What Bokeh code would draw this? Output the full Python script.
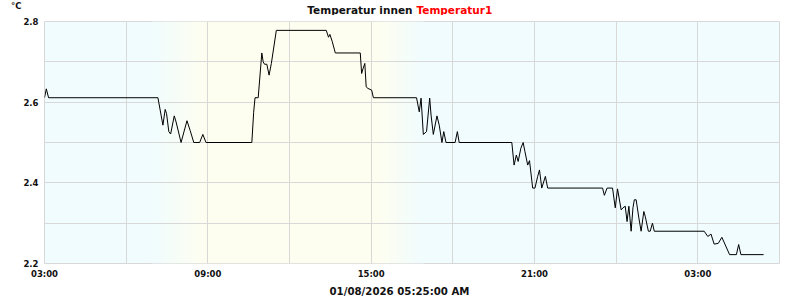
from bokeh.plotting import figure
from bokeh.models import FixedTicker, DatetimeTickFormatter, Range1d, LinearAxis
from bokeh.layouts import column
from bokeh.core.properties import value
from bokeh.embed import file_html
from bokeh.resources import INLINE
import pandas as pd

# ---- data ----
times = [
    "2026-01-07 03:00", "2026-01-07 03:04", "2026-01-07 03:09", "2026-01-07 07:10",
    "2026-01-07 07:21", "2026-01-07 07:26", "2026-01-07 07:29", "2026-01-07 07:34",
    "2026-01-07 07:38", "2026-01-07 07:46", "2026-01-07 07:50", "2026-01-07 08:01",
    "2026-01-07 08:14", "2026-01-07 08:21", "2026-01-07 08:29", "2026-01-07 08:42",
    "2026-01-07 08:49", "2026-01-07 08:56", "2026-01-07 10:37", "2026-01-07 10:41",
    "2026-01-07 10:44", "2026-01-07 10:51", "2026-01-07 10:59", "2026-01-07 11:02",
    "2026-01-07 11:05", "2026-01-07 11:10", "2026-01-07 11:15", "2026-01-07 11:20",
    "2026-01-07 11:31", "2026-01-07 13:21", "2026-01-07 13:26", "2026-01-07 13:29",
    "2026-01-07 13:34", "2026-01-07 13:41", "2026-01-07 14:36", "2026-01-07 14:39",
    "2026-01-07 14:42", "2026-01-07 14:46", "2026-01-07 14:49", "2026-01-07 14:53",
    "2026-01-07 15:01", "2026-01-07 15:05", "2026-01-07 16:40", "2026-01-07 16:46",
    "2026-01-07 16:50", "2026-01-07 16:55", "2026-01-07 17:02", "2026-01-07 17:09",
    "2026-01-07 17:12", "2026-01-07 17:17", "2026-01-07 17:25", "2026-01-07 17:30",
    "2026-01-07 17:36", "2026-01-07 17:40", "2026-01-07 17:45", "2026-01-07 18:05",
    "2026-01-07 18:10", "2026-01-07 18:14", "2026-01-07 20:10", "2026-01-07 20:15",
    "2026-01-07 20:20", "2026-01-07 20:24", "2026-01-07 20:30", "2026-01-07 20:35",
    "2026-01-07 20:39", "2026-01-07 20:45", "2026-01-07 20:49", "2026-01-07 20:56",
    "2026-01-07 21:01", "2026-01-07 21:07", "2026-01-07 21:11", "2026-01-07 21:16",
    "2026-01-07 21:24", "2026-01-07 21:29", "2026-01-07 23:30", "2026-01-07 23:34",
    "2026-01-07 23:40", "2026-01-07 23:52", "2026-01-07 23:58", "2026-01-08 00:03",
    "2026-01-08 00:11", "2026-01-08 00:15", "2026-01-08 00:20", "2026-01-08 00:24",
    "2026-01-08 00:28", "2026-01-08 00:33", "2026-01-08 00:37", "2026-01-08 00:40",
    "2026-01-08 00:44", "2026-01-08 00:50", "2026-01-08 00:55", "2026-01-08 01:01",
    "2026-01-08 01:04", "2026-01-08 01:11", "2026-01-08 01:15", "2026-01-08 01:20",
    "2026-01-08 01:24", "2026-01-08 03:14", "2026-01-08 03:22", "2026-01-08 03:29",
    "2026-01-08 03:36", "2026-01-08 03:45", "2026-01-08 03:53", "2026-01-08 04:10",
    "2026-01-08 04:25", "2026-01-08 04:30", "2026-01-08 04:35", "2026-01-08 05:25",
]
temperatur1 = [
    2.611, 2.633, 2.611, 2.611,
    2.543, 2.582, 2.572, 2.527,
    2.521, 2.566, 2.551, 2.500,
    2.554, 2.530, 2.500, 2.500,
    2.520, 2.500, 2.500, 2.575,
    2.611, 2.611, 2.722, 2.700,
    2.694, 2.694, 2.667, 2.696,
    2.778, 2.778, 2.761, 2.768,
    2.751, 2.722, 2.722, 2.671,
    2.683, 2.696, 2.638, 2.634,
    2.630, 2.611, 2.611, 2.576,
    2.610, 2.520, 2.527, 2.610,
    2.568, 2.520, 2.566, 2.543,
    2.500, 2.527, 2.500, 2.500,
    2.527, 2.500, 2.500, 2.444,
    2.469, 2.453, 2.486, 2.500,
    2.477, 2.444, 2.455, 2.387,
    2.387, 2.416, 2.432, 2.387,
    2.416, 2.387, 2.387, 2.369,
    2.387, 2.387, 2.338, 2.385,
    2.333, 2.338, 2.342, 2.304,
    2.342, 2.280, 2.338, 2.358,
    2.358, 2.313, 2.280, 2.329,
    2.317, 2.280, 2.280, 2.300,
    2.280, 2.280, 2.267, 2.273,
    2.248, 2.250, 2.265, 2.222,
    2.222, 2.247, 2.222, 2.222,
]
x_start = "2026-01-07 03:00"
x_end = "2026-01-08 06:00"
y_ticks = [2.2, 2.4, 2.6, 2.8]
y_minor = [2.3, 2.5, 2.7]
x_ticks = ["2026-01-07 03:00", "2026-01-07 09:00", "2026-01-07 15:00",
           "2026-01-07 21:00", "2026-01-08 03:00"]
x_minor = ["2026-01-07 06:00", "2026-01-07 12:00", "2026-01-07 18:00",
           "2026-01-08 00:00"]
dawn = ("2026-01-07 06:55", "2026-01-07 08:55")
dusk = ("2026-01-07 15:15", "2026-01-07 16:55")
title_black = "Temperatur innen"
title_red = "Temperatur1"
unit_label = "°C"
time_label = "01/08/2026 05:25:00 AM"

NIGHT = (240, 252, 254)
DAY = (254, 254, 240)
GRID = "#d8d8d8"
FONT = "DejaVu Sans"
INK = "#111111"
LEFT, RIGHT = 44, 21          # frame borders shared by every row of the column


def ms(s):
    return pd.Timestamp(s).value / 1e6


def strip_figure(h):
    # frames of a column are aligned, so map the frame to canvas pixels
    f = figure(width=800, height=h, output_backend="svg", toolbar_location=None,
               title=None,
               x_range=Range1d(LEFT, 800 - RIGHT), y_range=Range1d(0, h),
               x_axis_location=None, y_axis_location=None,
               min_border_left=LEFT, min_border_right=RIGHT,
               min_border_top=0, min_border_bottom=0)
    f.grid.visible = False
    f.outline_line_color = None
    f.background_fill_color = "white"
    f.border_fill_color = "white"
    return f


# ---- header ----
HEAD_H = 15
head = strip_figure(HEAD_H)
head.text(x=[412], y=[HEAD_H - 9], text=[title_black], text_align="right",
          text_baseline="alphabetic", text_font=value(FONT),
          text_font_style="bold", text_font_size="10.5px", text_color=INK)
head.text(x=[416], y=[HEAD_H - 9], text=[title_red], text_align="left",
          text_baseline="alphabetic", text_font=value(FONT),
          text_font_style="bold", text_font_size="10.5px", text_color="#ff0000")
# unit shown as the single tick label of an invisible left axis of the header
unit_axis = LinearAxis(ticker=FixedTicker(ticks=[HEAD_H - 5]),
                       major_label_overrides={HEAD_H - 5: unit_label},
                       axis_line_color=None, major_tick_line_color=None,
                       major_tick_out=0, major_tick_in=0,
                       major_label_standoff=LEFT - 21,
                       major_label_text_font=FONT,
                       major_label_text_font_style="bold",
                       major_label_text_font_size="8.5px",
                       major_label_text_color=INK)
head.add_layout(unit_axis, "left")

# ---- main plot ----
MAIN_H = 266
x = pd.to_datetime(times)
p = figure(width=800, height=MAIN_H, x_axis_type="datetime",
           output_backend="svg", toolbar_location=None, title=None,
           x_range=Range1d(pd.Timestamp(x_start), pd.Timestamp(x_end)),
           y_range=Range1d(2.2, 2.8),
           min_border_left=LEFT, min_border_right=RIGHT,
           min_border_top=21 - HEAD_H, min_border_bottom=17)
p.background_fill_color = "#%02x%02x%02x" % NIGHT
p.border_fill_color = "white"
p.outline_line_color = GRID


def mix(t):
    return "#%02x%02x%02x" % tuple(round(a + (b - a) * t) for a, b in zip(NIGHT, DAY))


lefts, rights, cols = [ms(dawn[1])], [ms(dusk[0])], [mix(1)]
N = 40
for (a, b), rising in ((dawn, True), (dusk, False)):
    a_ms, b_ms = ms(a), ms(b)
    w = (b_ms - a_ms) / N
    for i in range(N):
        t = (i + 0.5) / N
        lefts.append(a_ms + i * w)
        rights.append(a_ms + (i + 1.6) * w)
        cols.append(mix(t if rising else 1 - t))
bg = p.quad(left=lefts, right=rights, bottom=2.2, top=2.8,
            fill_color=cols, line_color=None)
bg.level = "image"

p.line(x, temperatur1, line_color="black", line_width=1)

p.yaxis.ticker = FixedTicker(ticks=y_ticks, minor_ticks=y_minor)
p.xaxis.ticker = FixedTicker(ticks=[ms(t) for t in x_ticks],
                             minor_ticks=[ms(t) for t in x_minor])
fmt = "%H:%M"
p.xaxis.formatter = DatetimeTickFormatter(hours=fmt, hourmin=fmt, days=fmt,
                                          minutes=fmt, months=fmt, years=fmt)
for ax in (p.xaxis, p.yaxis):
    ax.axis_line_color = None
    ax.major_tick_line_color = None
    ax.minor_tick_line_color = None
    ax.major_tick_out = 0
    ax.major_tick_in = 0
    ax.minor_tick_out = 0
    ax.minor_tick_in = 0
    ax.major_label_text_font = FONT
    ax.major_label_text_font_style = "bold"
    ax.major_label_text_font_size = "8.5px"
    ax.major_label_text_color = INK
p.xaxis.major_label_standoff = 5
p.yaxis.major_label_standoff = 6

for g in (p.xgrid, p.ygrid):
    g.grid_line_color = GRID
    g.minor_grid_line_color = GRID

# ---- footer ----
FOOT_H = 300 - HEAD_H - MAIN_H
foot = strip_figure(FOOT_H)
foot.text(x=[399], y=[FOOT_H / 2], text=[time_label], text_align="center",
          text_baseline="middle", text_font=value(FONT),
          text_font_style="bold", text_font_size="10.2px", text_color=INK)

layout = column(head, p, foot, spacing=0)
open("out.html", "w").write(file_html(layout, INLINE))
